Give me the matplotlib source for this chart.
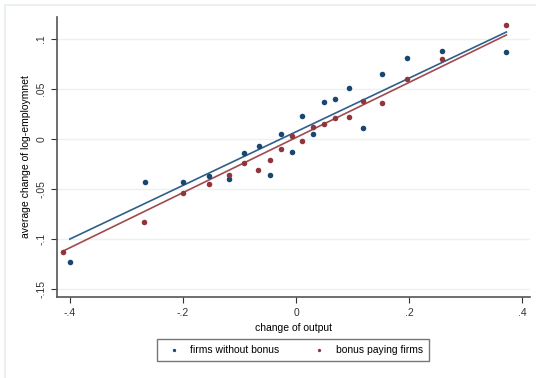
import matplotlib
matplotlib.use("Agg")
import matplotlib.pyplot as plt
import numpy as np

# data
x_vals = [-0.400, -0.267, -0.200, -0.154, -0.119, -0.092, -0.066, -0.046, -0.027, -0.007,
          0.011, 0.030, 0.049, 0.069, 0.094, 0.119, 0.152, 0.196, 0.258, 0.372]
no_bonus = [-0.123, -0.043, -0.043, -0.037, -0.040, -0.014, -0.007, -0.036, 0.005, -0.013,
            0.023, 0.005, 0.037, 0.040, 0.051, 0.011, 0.065, 0.081, 0.088, 0.087]
x_bonus = [-0.412, -0.268, -0.200, -0.154, -0.119, -0.092, -0.067, -0.046, -0.027, -0.007,
           0.011, 0.030, 0.049, 0.069, 0.094, 0.119, 0.152, 0.196, 0.258, 0.372]
bonus = [-0.113, -0.083, -0.054, -0.045, -0.036, -0.024, -0.031, -0.021, -0.010, 0.003,
         -0.002, 0.012, 0.015, 0.021, 0.022, 0.038, 0.036, 0.060, 0.080, 0.114]

# fitted line values at the ends of each series
fit_no_bonus = [-0.100, 0.107]
fit_bonus = [-0.112, 0.104]

xticks = [-0.4, -0.2, 0, 0.2, 0.4]
xtick_labels = ["-.4", "-.2", "0", ".2", ".4"]
yticks = [-0.15, -0.1, -0.05, 0, 0.05, 0.1]
ytick_labels = ["-.15", "-.1", "-.05", "0", ".05", ".1"]

blue = "#1a476f"
red = "#90353b"

plt.rcParams['font.family'] = ['Liberation Sans', 'DejaVu Sans']

fig = plt.figure(figsize=(5.36, 3.78), dpi=100)

# faint outer frame of the graph region
frame = plt.Rectangle((0.009, -0.02), 1.1, 1.007, transform=fig.transFigure,
                      fill=False, edgecolor="#e6eef0", lw=1.2)
fig.patches.append(frame)

ax = fig.add_axes([0.106, 0.214, 0.883, 0.741])

ax.scatter(x_vals, no_bonus, s=16, color=blue, zorder=3, linewidths=0,
           label="firms without bonus")
ax.scatter(x_bonus, bonus, s=16, color=red, zorder=3, linewidths=0,
           label="bonus paying firms")

# linear fits
ax.plot([min(x_vals), max(x_vals)], fit_no_bonus, color="#2f5f8a", lw=1.2, zorder=2)
ax.plot([min(x_bonus), max(x_bonus)], fit_bonus, color="#a04a50", lw=1.2, zorder=2)

ax.set_xlim(-0.423, 0.414)
ax.set_ylim(-0.158, 0.122)
ax.set_xticks(xticks)
ax.set_xticklabels(xtick_labels)
ax.set_yticks(yticks)
ax.set_yticklabels(ytick_labels, rotation=90, va="center")
ax.tick_params(labelsize=7.5, colors="#333333", length=4, width=0.8)
ax.yaxis.grid(True, color="#eaf2f3", lw=1)
ax.set_axisbelow(True)
for s in ["top", "right"]:
    ax.spines[s].set_visible(False)
for s in ["left", "bottom"]:
    ax.spines[s].set_color("#555555")
    ax.spines[s].set_linewidth(1.2)

ax.set_xlabel("change of output", fontsize=7.5, labelpad=4)
ax.set_ylabel("average change of log-employmnet", fontsize=7.5, labelpad=4)

leg = fig.legend(loc="center", bbox_to_anchor=(0.547, 0.074), ncol=2, fontsize=7.5,
                 frameon=True, fancybox=False, edgecolor="#555555", markerscale=0.6,
                 handletextpad=0.6, columnspacing=2.8, borderpad=0.6)
leg.get_frame().set_linewidth(1.0)

fig.savefig("out.png", dpi=100)
